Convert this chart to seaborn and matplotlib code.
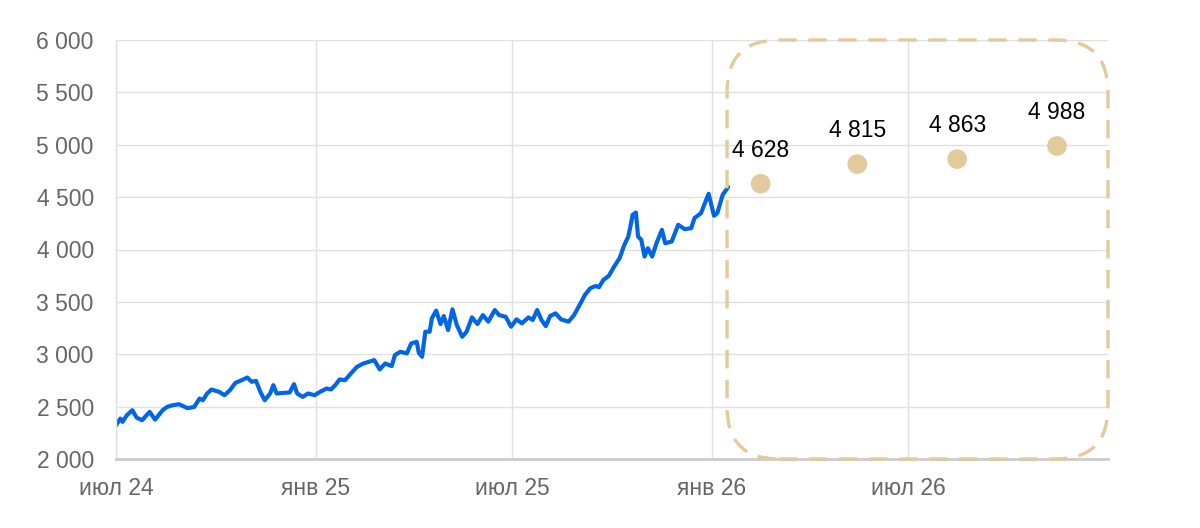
import pandas as pd
import seaborn as sns
import matplotlib.pyplot as plt
from matplotlib.patches import FancyBboxPatch
import matplotlib.dates as mdates

# days since 1 Jul 2024 and price
days = [0, 4, 6, 10, 15, 19, 24, 31, 36, 43, 47, 52, 58, 66, 72, 77, 80, 84, 88, 95,
        100, 105, 110, 116, 121, 125, 129, 133, 137, 142, 145, 148, 154, 160, 164, 167,
        172, 177, 183, 188, 194, 198, 202, 206, 211, 217, 222, 228, 233, 238, 243, 248,
        254, 257, 262, 268, 272, 277, 279, 282, 285, 289, 291, 295, 299, 302, 306, 310,
        314, 319, 323, 328, 333, 338, 343, 349, 353, 359, 364, 369, 374, 380, 384, 388,
        392, 396, 400, 405, 410, 417, 422, 428, 432, 437, 442, 445, 449, 454, 459, 464,
        468, 472, 474, 476, 479, 481, 484, 487, 490, 494, 498, 503, 506, 512, 518, 524,
        530, 533, 539, 546, 551, 554, 559, 564]
price = [2322, 2386, 2354, 2418, 2466, 2395, 2370, 2450, 2376, 2466, 2497, 2513, 2523,
         2485, 2497, 2577, 2561, 2625, 2663, 2641, 2609, 2657, 2727, 2753, 2778, 2737,
         2746, 2641, 2561, 2625, 2705, 2625, 2631, 2635, 2714, 2625, 2593, 2625, 2609,
         2641, 2673, 2663, 2705, 2759, 2753, 2823, 2880, 2912, 2928, 2944, 2855, 2912,
         2887, 2992, 3024, 3008, 3103, 3119, 3014, 2976, 3215, 3215, 3343, 3416, 3288,
         3365, 3231, 3429, 3279, 3167, 3215, 3352, 3288, 3374, 3311, 3422, 3374, 3358,
         3263, 3333, 3295, 3352, 3327, 3422, 3327, 3269, 3365, 3390, 3333, 3311, 3374,
         3486, 3566, 3630, 3652, 3640, 3709, 3748, 3837, 3917, 4035, 4124, 4220, 4331,
         4353, 4124, 4092, 3933, 4012, 3933, 4060, 4188, 4060, 4076, 4236, 4194, 4204,
         4300, 4347, 4532, 4322, 4347, 4522, 4596]

forecast_dates = ["2026-02-15", "2026-05-15", "2026-08-15", "2026-11-15"]
forecast_values = [4628, 4815, 4863, 4988]
forecast_labels = ["4 628", "4 815", "4 863", "4 988"]

tick_dates = ["2024-07-01", "2025-01-01", "2025-07-01", "2026-01-01", "2026-07-01"]
tick_labels = ["июл 24", "янв 25", "июл 25", "янв 26", "июл 26"]

hist = pd.DataFrame({"date": pd.Timestamp("2024-07-01") + pd.to_timedelta(days, unit="D"),
                     "price": price})
fc = pd.DataFrame({"date": pd.to_datetime(forecast_dates), "price": forecast_values})

sns.set_theme(style="whitegrid")
plt.rcParams["font.family"] = ["Liberation Sans", "DejaVu Sans"]

fig = plt.figure(figsize=(12, 5.28), dpi=100)
ax = fig.add_axes([116 / 1200, 1 - 459 / 528, (1108 - 116) / 1200, (459 - 40) / 528])

gold = "#e2ca9c"
sns.lineplot(data=hist, x="date", y="price", color="#0066e6", linewidth=3.0, ax=ax)
sns.scatterplot(data=fc, x="date", y="price", color=gold, s=200, edgecolor="none",
                ax=ax, zorder=3)
for d, v, lab in zip(fc["date"], forecast_values, forecast_labels):
    ax.annotate(lab, (d, v), xytext=(0, 24), textcoords="offset points",
                ha="center", va="center", fontsize=16.5, color="black")

ax.set_xlim(pd.Timestamp("2024-07-01"), pd.Timestamp("2027-01-01"))
ax.set_ylim(2000, 6000)
ax.set_yticks(range(2000, 6001, 500))
ax.set_yticklabels([f"{v:,}".replace(",", " ") for v in range(2000, 6001, 500)])
ax.set_xticks(pd.to_datetime(tick_dates))
ax.set_xticklabels(tick_labels)
ax.set_xlabel("")
ax.set_ylabel("")
ax.tick_params(axis="both", length=0, labelsize=16.5, labelcolor="#666666")
ax.tick_params(axis="y", pad=16)
ax.tick_params(axis="x", pad=13)
ax.grid(True, color="#e0e0e0", linewidth=1)
for s in ["top", "right"]:
    ax.spines[s].set_visible(False)
ax.spines["left"].set_color("#e0e0e0")
ax.spines["left"].set_linewidth(1)
ax.spines["bottom"].set_color("#cccccc")
ax.spines["bottom"].set_linewidth(2)

# dashed rounded frame around the forecast region
x0 = mdates.date2num(pd.Timestamp("2026-01-15"))
x1 = mdates.date2num(pd.Timestamp("2027-01-01"))
to_in = ax.transData + fig.dpi_scale_trans.inverted()
(px0, py0), (px1, py1) = to_in.transform([(x0, 2000), (x1, 6000)])
box = FancyBboxPatch((px0, py0), px1 - px0, py1 - py0,
                     boxstyle="round,pad=0,rounding_size=0.52",
                     transform=fig.dpi_scale_trans, fill=False,
                     edgecolor=gold, linewidth=2.4, linestyle=(0, (5.5, 3.5)),
                     clip_on=False, zorder=4)
fig.patches.append(box)

fig.savefig("out.png", dpi=100)
